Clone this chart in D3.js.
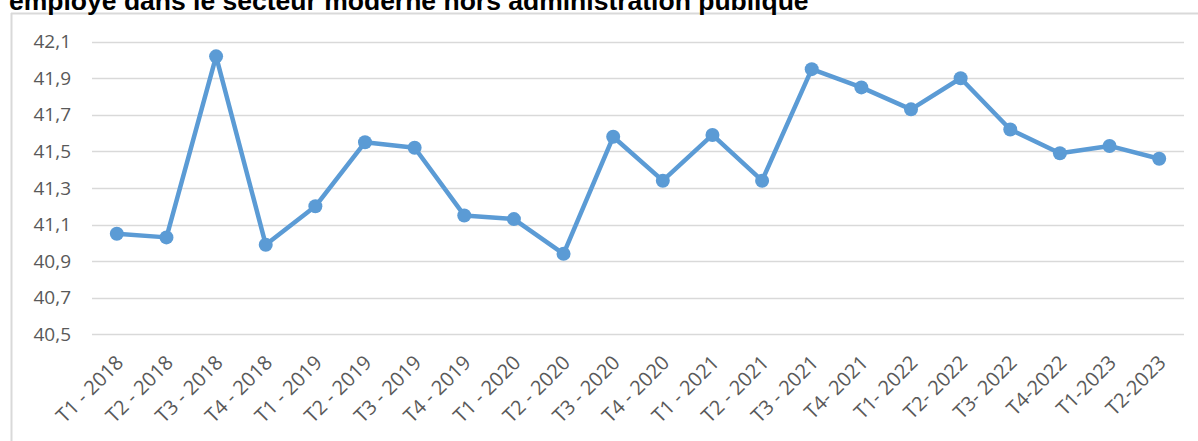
<!DOCTYPE html>
<html>
<head>
<meta charset="utf-8">
<script src="https://cdn.jsdelivr.net/npm/d3@7"></script>
<style>
  body { margin: 0; background: #fff; overflow: hidden; }
  svg { display: block; }
</style>
</head>
<body>
<svg id="chart"></svg>
<script>
var titleText = "employé dans le secteur moderne hors administration publique";

var quarters = ["T1 - 2018", "T2 - 2018", "T3 - 2018", "T4 - 2018",
  "T1 - 2019", "T2 - 2019", "T3 - 2019", "T4 - 2019",
  "T1 - 2020", "T2 - 2020", "T3 - 2020", "T4 - 2020",
  "T1 - 2021", "T2 - 2021", "T3 - 2021", "T4- 2021",
  "T1- 2022", "T2- 2022", "T3- 2022", "T4-2022", "T1-2023", "T2-2023"];

var values = [41.05, 41.03, 42.02, 40.99,
  41.2, 41.55, 41.52, 41.15,
  41.13, 40.94, 41.58, 41.34,
  41.59, 41.34, 41.95, 41.85,
  41.73, 41.9, 41.62, 41.49, 41.53, 41.46];

var yTicks = [40.5, 40.7, 40.9, 41.1, 41.3, 41.5, 41.7, 41.9, 42.1];

var W = 1198, H = 441;
var svg = d3.select('#chart').attr('width', W).attr('height', H);

// chart frame (only top and left edges are in view)
svg.append('line')
  .attr('x1', 11.5).attr('x2', 11.5).attr('y1', 13).attr('y2', H)
  .attr('stroke', '#d9d9d9').attr('stroke-width', 2);
svg.append('line')
  .attr('x1', 11).attr('x2', W).attr('y1', 13.5).attr('y2', 13.5)
  .attr('stroke', '#d9d9d9').attr('stroke-width', 2);

// title, clipped at the top like the original
svg.append('text')
  .attr('x', 9).attr('y', 10)
  .attr('font-family', 'Liberation Sans, Arial, sans-serif')
  .attr('font-weight', 'bold')
  .attr('font-size', 26.5)
  .attr('fill', '#000')
  .text(titleText);

var x = d3.scaleBand().domain(quarters).range([92, 1184]);
var y = d3.scaleLinear().domain([40.5, 42.1]).range([334.3, 41.7]);

var fmt = function(d){ return d3.format('.1f')(d).replace('.', ','); };

// gridlines
svg.append('g')
  .selectAll('line')
  .data(yTicks)
  .enter().append('line')
  .attr('x1', 92).attr('x2', 1184)
  .attr('y1', function(d){ return Math.round(y(d)) + 0.5; })
  .attr('y2', function(d){ return Math.round(y(d)) + 0.5; })
  .attr('stroke', '#d9d9d9')
  .attr('stroke-width', 1.3);

// y labels
var yAxis = d3.axisLeft(y).tickValues(yTicks).tickFormat(fmt).tickSize(0).tickPadding(0);
var gy = svg.append('g').attr('transform', 'translate(71,0)').call(yAxis);
gy.select('.domain').remove();
gy.selectAll('text')
  .attr('font-family', 'Open Sans, Liberation Sans, sans-serif')
  .attr('font-size', 19)
  .attr('fill', '#595959');

// x labels
var xAxis = d3.axisBottom(x).tickSize(0).tickPadding(0);
var gx = svg.append('g').attr('transform', 'translate(0,354)').call(xAxis);
gx.select('.domain').remove();
gx.selectAll('text')
  .attr('font-family', 'Open Sans, Liberation Sans, sans-serif')
  .attr('font-size', 20)
  .attr('fill', '#595959')
  .attr('text-anchor', 'end')
  .attr('dy', '0.7em')
  .attr('transform', 'translate(-2,0) rotate(-45)');

// series
var line = d3.line()
  .x(function(d, i){ return x(quarters[i]) + x.bandwidth() / 2; })
  .y(function(d){ return y(d); });

svg.append('path')
  .datum(values)
  .attr('d', line)
  .attr('fill', 'none')
  .attr('stroke', '#5b9bd5')
  .attr('stroke-width', 4.5)
  .attr('stroke-linejoin', 'round');

svg.append('g')
  .selectAll('circle')
  .data(values)
  .enter().append('circle')
  .attr('cx', function(d, i){ return x(quarters[i]) + x.bandwidth() / 2; })
  .attr('cy', function(d){ return y(d); })
  .attr('r', 7)
  .attr('fill', '#5b9bd5');
</script>
</body>
</html>
